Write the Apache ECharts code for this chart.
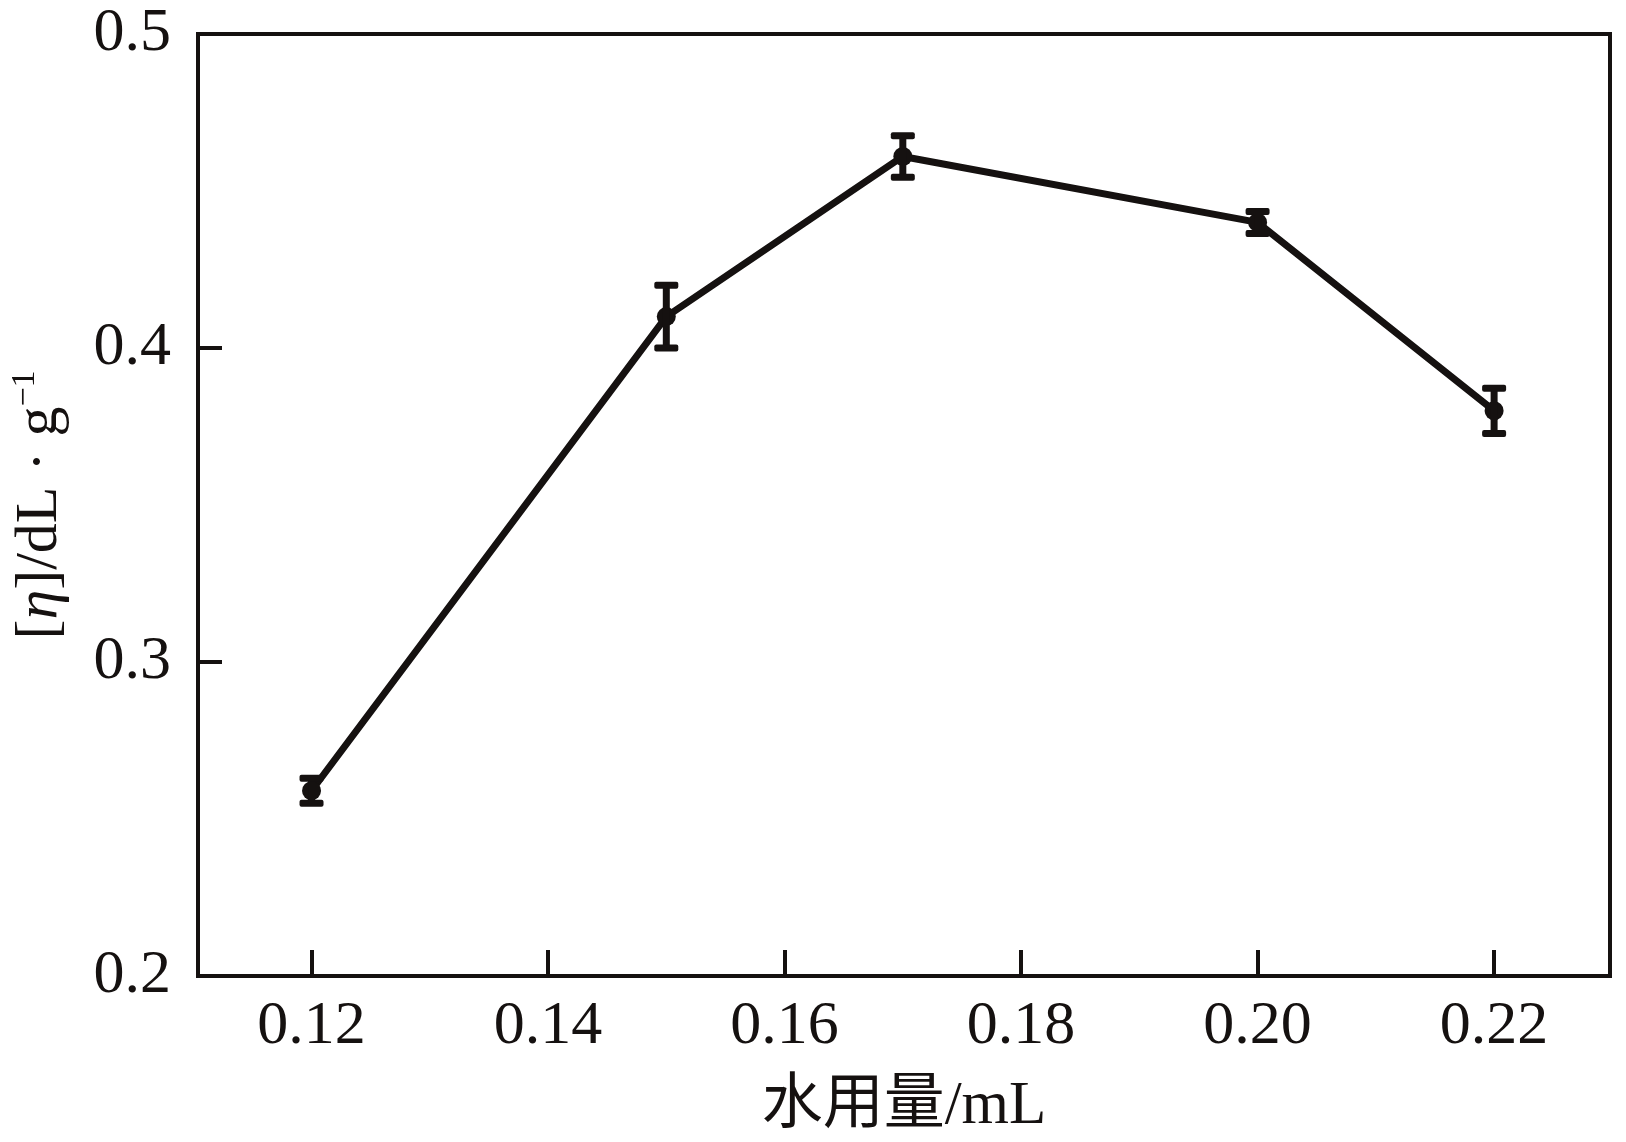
<!DOCTYPE html>
<html>
<head>
<meta charset="utf-8">
<script src="https://cdn.jsdelivr.net/npm/echarts@6/dist/echarts.min.js"></script>
<style>
html,body{margin:0;padding:0;background:#fff;}
#chart{width:1626px;height:1142px;}
</style>
</head>
<body>
<div id="chart"></div>
<script>
const xValues = [0.12, 0.15, 0.17, 0.20, 0.22];
const yValues = [0.259, 0.410, 0.461, 0.440, 0.380];
const yErrors = [0.004, 0.010, 0.0066, 0.0035, 0.0072];
const xTicks = [0.12, 0.14, 0.16, 0.18, 0.20, 0.22];
const yTicks = [0.2, 0.3, 0.4, 0.5];
const xTitle = '水用量/mL';

const FONT = '"Liberation Serif", "Times New Roman", "Noto Sans CJK SC", serif';
const INK = '#151110';

const chart = echarts.init(document.getElementById('chart'), null, {renderer: 'canvas'});

const lineData = xValues.map((x, i) => [x, yValues[i]]);
const errData = xValues.map((x, i) => [x, yValues[i] - yErrors[i], yValues[i] + yErrors[i]]);

chart.setOption({
  animation: false,
  backgroundColor: '#fff',
  grid: {
    left: 198, right: 16, top: 34, bottom: 166,
    show: true, borderColor: INK, borderWidth: 4, backgroundColor: 'transparent'
  },
  xAxis: {
    type: 'value',
    min: 0.1104, max: 0.2298,
    name: xTitle,
    nameLocation: 'middle',
    nameGap: 100,
    nameTextStyle: {fontFamily: FONT, fontSize: 61, color: INK},
    axisLine: {show: true, lineStyle: {color: INK, width: 4}},
    axisTick: {show: true, inside: true, length: 26, customValues: xTicks, lineStyle: {color: INK, width: 4}},
    axisLabel: {
      customValues: xTicks, margin: 20,
      fontFamily: FONT, fontSize: 62, color: INK,
      formatter: v => v.toFixed(2)
    },
    splitLine: {show: false}
  },
  yAxis: {
    type: 'value',
    min: 0.2, max: 0.5, interval: 0.1,
    name: '{t|[}{i|η}{t|]/dL · g}{s|−1}',
    nameLocation: 'middle',
    nameGap: 126,
    nameRotate: 90,
    nameTextStyle: {
      fontFamily: FONT, fontSize: 60, color: INK,
      rich: {
        t: {fontFamily: FONT, fontSize: 60, color: INK, lineHeight: 64},
        i: {fontFamily: FONT, fontSize: 60, fontStyle: 'italic', color: INK, lineHeight: 64},
        s: {fontFamily: FONT, fontSize: 34, color: INK, verticalAlign: 'top', lineHeight: 64}
      }
    },
    axisLine: {show: true, lineStyle: {color: INK, width: 4}},
    axisTick: {show: true, inside: true, length: 24, lineStyle: {color: INK, width: 4}},
    axisLabel: {
      margin: 27,
      fontFamily: FONT, fontSize: 62, color: INK,
      formatter: v => v.toFixed(1)
    },
    splitLine: {show: false}
  },
  series: [
    {
      type: 'line',
      data: lineData,
      lineStyle: {color: INK, width: 7},
      itemStyle: {color: INK},
      symbol: 'circle',
      symbolSize: 19,
      z: 3
    },
    {
      type: 'custom',
      data: errData,
      z: 4,
      renderItem: function (params, api) {
        const x = api.value(0);
        const lo = api.coord([x, api.value(1)]);
        const hi = api.coord([x, api.value(2)]);
        const capW = 24, capH = 7;
        return {
          type: 'group',
          children: [
            {type: 'line', shape: {x1: lo[0], y1: lo[1], x2: hi[0], y2: hi[1]}, style: {stroke: INK, lineWidth: 7}},
            {type: 'rect', shape: {x: hi[0] - capW / 2, y: hi[1] - capH / 2, width: capW, height: capH, r: 2}, style: {fill: INK}},
            {type: 'rect', shape: {x: lo[0] - capW / 2, y: lo[1] - capH / 2, width: capW, height: capH, r: 2}, style: {fill: INK}}
          ]
        };
      }
    }
  ]
});
</script>
</body>
</html>
